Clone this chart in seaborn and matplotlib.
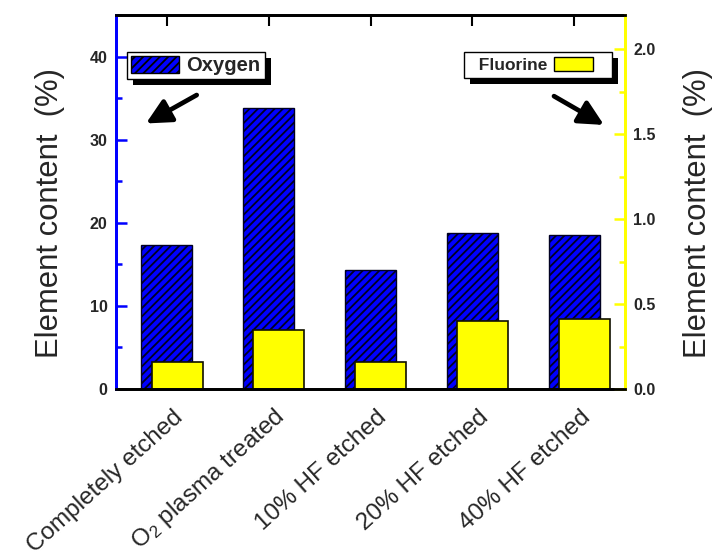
import numpy as np
import pandas as pd
import matplotlib
matplotlib.use('Agg')
import matplotlib.pyplot as plt
import seaborn as sns
from matplotlib.patches import Patch, Rectangle
from matplotlib.ticker import MultipleLocator
from matplotlib.transforms import IdentityTransform, ScaledTranslation
from matplotlib.legend_handler import HandlerPatch

categories = ['Completely etched', r'O$_2$ plasma treated', '10% HF etched',
              '20% HF etched', '40% HF etched']
oxygen = [17.3, 33.8, 14.3, 18.8, 18.5]
fluorine = [0.16, 0.35, 0.16, 0.40, 0.41]
left_ticks = [0, 10, 20, 30, 40]
right_ticks = [0.0, 0.5, 1.0, 1.5, 2.0]
ylabel = 'Element content  (%)'

sns.set_style('white')
plt.rcParams['font.family'] = ['Liberation Sans', 'DejaVu Sans']
plt.rcParams['mathtext.fontset'] = 'custom'
plt.rcParams['mathtext.rm'] = 'Liberation Sans'
plt.rcParams['mathtext.it'] = 'Liberation Sans:italic'
plt.rcParams['hatch.linewidth'] = 1.3

BLUE = '#0000ff'
YELLOW = '#ffff00'

fig = plt.figure(figsize=(7.13, 5.59), dpi=100)
ax = fig.add_axes([116 / 713, 1 - 389 / 559, 509 / 713, 374 / 559])

df = pd.DataFrame({'sample': categories, 'Oxygen': oxygen, 'Fluorine': fluorine})
sns.barplot(data=df, x='sample', y='Oxygen', ax=ax, width=0.5, color=BLUE,
            saturation=1, edgecolor='#000022', linewidth=1, hatch='////')
ax2 = ax.twinx()
sns.barplot(data=df, x='sample', y='Fluorine', ax=ax2, width=0.5, color=YELLOW,
            saturation=1, edgecolor='#111100', linewidth=1.2)
for p in ax2.patches:
    p.set_x(p.get_x() + 0.1)

ax.set_xlim(-0.5, 4.5)
ax.set_ylim(0, 45)
ax2.set_ylim(0, 2.2)
ax.set_xlabel('')
ax2.set_xlabel('')

# y axes
ax.set_yticks(left_ticks)
ax.set_yticklabels([str(v) for v in left_ticks], fontweight='bold', fontsize=11.5)
ax.yaxis.set_minor_locator(MultipleLocator(5))
ax.tick_params(axis='y', which='both', direction='in', color=BLUE, width=1.8,
               left=True, right=False, pad=6)
ax.tick_params(axis='y', which='major', length=8)
ax.tick_params(axis='y', which='minor', length=4)

ax2.set_yticks(right_ticks)
ax2.set_yticklabels([f'{v:.1f}' for v in right_ticks], fontweight='bold', fontsize=11.5)
ax2.yaxis.set_minor_locator(MultipleLocator(0.25))
ax2.tick_params(axis='y', which='both', direction='in', color=YELLOW, width=1.8,
                right=True, left=False, pad=6)
ax2.tick_params(axis='y', which='major', length=8)
ax2.tick_params(axis='y', which='minor', length=4)

# x axis
ax.set_xticks(range(len(categories)))
ax.tick_params(axis='x', which='major', direction='in', length=8, width=1.5,
               color='k', top=True, bottom=True, pad=0)
ax.set_xticklabels(categories, rotation=42, ha='right', va='center',
                   rotation_mode='anchor', fontsize=17.5)
off = ScaledTranslation(13 / 100, -25 / 100, fig.dpi_scale_trans)
for lab in ax.get_xticklabels():
    lab.set_transform(lab.get_transform() + off)

ax.set_ylabel(ylabel, fontsize=22.3)
ax.yaxis.set_label_coords(-0.101, 0.471)
ax2.set_ylabel(ylabel, fontsize=22.3)
ax2.yaxis.set_label_coords(1.114, 0.471)

for a in (ax, ax2):
    a.spines['left'].set_color(BLUE)
    a.spines['right'].set_color(YELLOW)
    a.spines['top'].set_color('k')
    a.spines['bottom'].set_color('k')
    for s in a.spines.values():
        s.set_linewidth(2)
        s.set_visible(True)

# legends
h_o = Patch(facecolor=BLUE, edgecolor='k', hatch='////', linewidth=1)
leg1 = ax2.legend([h_o], ['Oxygen'], loc='upper left', bbox_to_anchor=(0.0216, 0.901),
                  borderaxespad=0, fancybox=False, edgecolor='k', framealpha=1,
                  prop={'weight': 'bold', 'size': 14.5}, handlelength=2.4,
                  handleheight=0.9, handletextpad=0.35, borderpad=0.2)
leg1.get_frame().set_linewidth(1)
ax2.add_artist(leg1)


def left_part_patch(legend, orig_handle, xdescent, ydescent, width, height, fontsize):
    return Rectangle((-xdescent, -ydescent), width * 0.74, height)


h_f = Patch(facecolor=YELLOW, edgecolor='k', linewidth=1)
leg2 = ax2.legend([h_f], ['  Fluorine'], loc='upper right', bbox_to_anchor=(0.974, 0.901),
                  borderaxespad=0, fancybox=False, edgecolor='k', framealpha=1,
                  prop={'weight': 'bold', 'size': 12.5}, handlelength=3.05,
                  handleheight=0.85, handletextpad=0.35, borderpad=0.3,
                  markerfirst=False,
                  handler_map={Patch: HandlerPatch(patch_func=left_part_patch)})
leg2.get_frame().set_linewidth(1)

# arrows
arrow_kw = dict(arrowstyle='-|>,head_length=0.5,head_width=0.25', lw=3.4,
                color='k', mutation_scale=30, shrinkA=0, shrinkB=0)
ax2.annotate('', xy=(0.0589, 0.710), xytext=(0.1585, 0.786),
             xycoords='axes fraction', textcoords='axes fraction', arrowprops=arrow_kw)
ax2.annotate('', xy=(0.9587, 0.706), xytext=(0.8605, 0.783),
             xycoords='axes fraction', textcoords='axes fraction', arrowprops=arrow_kw)

# black drop shadows behind the legend boxes
fig.canvas.draw()
for leg in (leg1, leg2):
    bb = leg.get_frame().get_window_extent()
    sh = Rectangle((bb.x0 + 6, bb.y0 - 6), bb.width, bb.height,
                   transform=IdentityTransform(), facecolor='k', edgecolor='none',
                   zorder=leg.get_zorder() - 0.1)
    ax2.add_artist(sh)
    sh.set_transform(IdentityTransform())
    sh.set_clip_on(False)

fig.savefig('out.png', dpi=100)
